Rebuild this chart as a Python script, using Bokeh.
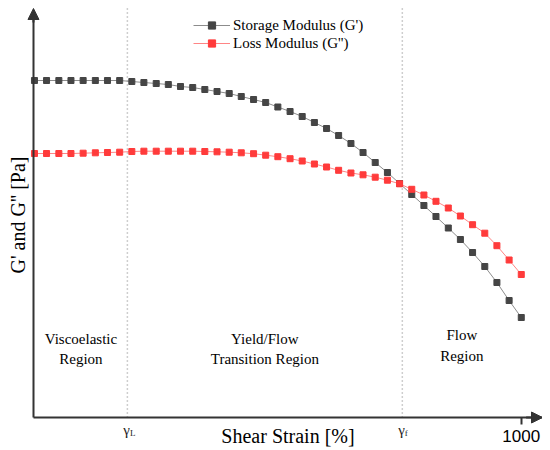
from bokeh.plotting import figure
from bokeh.models import (Range1d, FixedTicker, Arrow, NormalHead,
                          Legend, LegendItem)
from bokeh.core.properties import value
from bokeh.embed import file_html
from bokeh.resources import INLINE

# ---- data (y in arbitrary units) ----
strain = [0.01, 0.0133, 0.0178, 0.0237, 0.0316, 0.0422, 0.0562, 0.075,
          0.1, 0.133, 0.178, 0.237, 0.316, 0.422, 0.562, 0.75,
          1, 1.33, 1.78, 2.37, 3.16, 4.22, 5.62, 7.5,
          10, 13.3, 17.8, 23.7, 31.6, 42.2, 56.2, 75,
          100, 133, 178, 237, 316, 422, 562, 750, 1000]
storage = [337, 337, 337, 337, 337, 337, 337, 337,
           336, 335, 334, 333, 331, 330, 328, 326,
           324, 321, 318, 315, 310.5, 306, 301, 295,
           289, 282, 274, 265, 255, 245, 234, 223,
           212, 201, 189.5, 178, 165, 151, 135, 117, 100]
loss = [264, 264, 264, 264, 264.3, 264.7, 265, 265.3,
        266, 266.3, 266.3, 266.3, 266.3, 266.3, 266, 265.7,
        265.3, 264.7, 263.8, 262.3, 260.8, 258.8, 256.5, 253.5,
        250.5, 247.2, 244.5, 242.7, 240.3, 237.3, 233.7, 228.2,
        222.5, 216.2, 209.5, 201.5, 192.8, 184.3, 171.8, 157.5, 143]
gamma_L = 0.09
gamma_f = 60
x_ticks = [1000]
x_tick_labels = {1000: "1000"}
series_names = ["Storage Modulus (G')", "Loss Modulus (G'')"]
region_lines = [["Viscoelastic", "Region"],
                ["Yield/Flow", "Transition Region"],
                ["Flow", "Region"]]

# view window (data units)
X_START, X_END = 10 ** -2.349, 10 ** 3.218
Y_START, Y_END = -31, 417
X_AXIS_AT = 10 ** -2.0103      # where the y axis crosses
Y_TOP = 409                    # tip of the y-axis arrow
AXIS_C = "#333333"
SERIF = "Liberation Serif"

p = figure(width=542, height=448, x_axis_type="log",
           x_range=Range1d(X_START, X_END), y_range=Range1d(Y_START, Y_END),
           output_backend="svg", toolbar_location=None, title=None,
           min_border=0)
p.outline_line_color = None
p.grid.visible = False
p.background_fill_color = "white"

# axes, fixed inside the frame
xa = p.xaxis[0]
xa.fixed_location = 0
xa.bounds = (X_AXIS_AT, X_END)
xa.ticker = FixedTicker(ticks=x_ticks)
xa.major_label_overrides = x_tick_labels
xa.minor_tick_line_color = None
xa.major_tick_in = 0
xa.major_tick_out = 7
xa.major_tick_line_color = AXIS_C
xa.major_tick_line_width = 2
xa.axis_line_color = AXIS_C
xa.axis_line_width = 2
xa.major_label_standoff = 5
xa.major_label_text_font = "Liberation Sans"
xa.major_label_text_font_size = "17px"
xa.major_label_text_color = "black"
xa.axis_label = "Shear Strain [%]"
xa.axis_label_text_font = SERIF
xa.axis_label_text_font_style = "normal"
xa.axis_label_text_font_size = "20px"
xa.axis_label_text_color = "black"
xa.axis_label_standoff = -20

ya = p.yaxis[0]
ya.fixed_location = X_AXIS_AT
ya.bounds = (0, Y_TOP - 4)
ya.ticker = FixedTicker(ticks=[])
ya.minor_tick_line_color = None
ya.major_tick_out = 0
ya.major_tick_in = 0
ya.major_label_standoff = 0
ya.axis_line_color = AXIS_C
ya.axis_line_width = 2
ya.axis_label = "G' and G'' [Pa]"
ya.axis_label_text_font = SERIF
ya.axis_label_text_font_style = "normal"
ya.axis_label_text_font_size = "20px"
ya.axis_label_text_color = "black"
ya.axis_label_standoff = 5

# arrow heads on the axes
p.add_layout(Arrow(end=NormalHead(size=11, fill_color=AXIS_C, line_color=AXIS_C),
                   x_start=X_AXIS_AT, y_start=Y_TOP - 14, x_end=X_AXIS_AT, y_end=Y_TOP,
                   line_color=AXIS_C, line_width=2))
p.add_layout(Arrow(end=NormalHead(size=11, fill_color=AXIS_C, line_color=AXIS_C),
                   x_start=10 ** 3.05, y_start=0, x_end=X_END, y_end=0,
                   line_color=AXIS_C, line_width=2))

# dotted region boundaries
p.segment(x0=[gamma_L, gamma_f], y0=[0, 0], x1=[gamma_L, gamma_f], y1=[Y_TOP, Y_TOP],
          line_color="#9e9e9e", line_width=1.5, line_dash="1 3")

# series
l1 = p.line(strain, storage, line_color="#8c8c8c", line_width=1)
s1 = p.scatter(strain, storage, marker="square", size=6,
               fill_color="#454545", line_color="#454545")
l2 = p.line(strain, loss, line_color="#ff8585", line_width=1)
s2 = p.scatter(strain, loss, marker="square", size=6,
               fill_color="#ff3b3b", line_color="#ff3b3b")

legend = Legend(items=[LegendItem(label=series_names[0], renderers=[l1, s1]),
                       LegendItem(label=series_names[1], renderers=[l2, s2])],
                location=(193, 396), orientation="vertical",
                border_line_color=None, background_fill_alpha=0,
                padding=0, margin=0, spacing=0,
                glyph_width=37, glyph_height=18, label_height=18,
                label_standoff=3, label_text_font=SERIF,
                label_text_font_size="15px", label_text_color="black")
p.add_layout(legend)

# region labels (centred on the geometric middle of each region)
bounds = [strain[0], gamma_L, gamma_f, strain[-1]]
row_y = [[79, 59], [79, 59], [83, 62]]
for i, lines in enumerate(region_lines):
    xc = (bounds[i] * bounds[i + 1]) ** 0.5
    for j, t in enumerate(lines):
        p.text(x=[xc], y=[row_y[i][j]], text=[t], text_align="center",
               text_baseline="middle", text_font_size="15px",
               text_color="black", text_font=value(SERIF))

# gamma labels below the axis
for g, sub in ((gamma_L, "L"), (gamma_f, "f")):
    p.text(x=[g], y=[-12], text=["γ"], text_align="right",
           text_baseline="alphabetic", text_font=value(SERIF),
           text_font_size="15px", text_color="#222222", x_offset=2.5)
    p.text(x=[g], y=[-15], text=[sub], text_align="left",
           text_baseline="alphabetic", text_font=value(SERIF),
           text_font_size="9px", text_color="#222222", x_offset=2.5)

open("out.html", "w").write(file_html(p, INLINE))
